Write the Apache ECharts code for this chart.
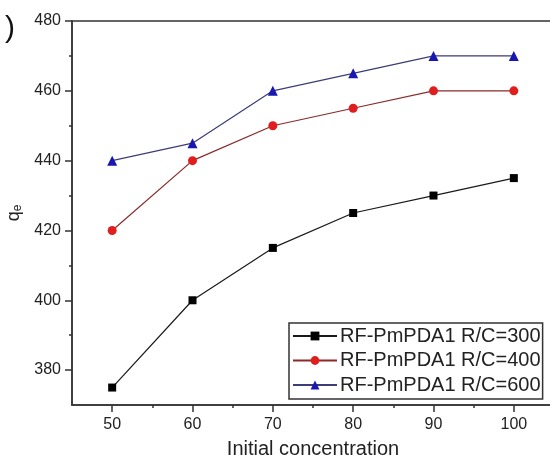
<!DOCTYPE html>
<html>
<head>
<meta charset="utf-8">
<script src="https://cdn.jsdelivr.net/npm/echarts@6/dist/echarts.min.js"></script>
<style>
  html, body { margin: 0; padding: 0; background: #fff; }
  #chart { width: 550px; height: 463px; }
</style>
</head>
<body>
<div id="chart"></div>
<script>
// initial concentration values
var concentration = [50, 60, 70, 80, 90, 100];
// qe for each R/C ratio
var rc300 = [375, 400, 415, 425, 430, 435];
var rc400 = [420, 440, 450, 455, 460, 460];
var rc600 = [440, 445, 460, 465, 470, 470];
var seriesNames = ['RF-PmPDA1 R/C=300', 'RF-PmPDA1 R/C=400', 'RF-PmPDA1 R/C=600'];
// tick labels
var xLabels = [50, 60, 70, 80, 90, 100];
var xMinor = [55, 65, 75, 85, 95];
var yLabels = [380, 400, 420, 440, 460, 480];
var yMinor = [390, 410, 430, 450, 470];

function pairs(xs, ys) {
  var out = [];
  for (var i = 0; i < xs.length; i++) {
    out.push([xs[i], ys[i]]);
  }
  return out;
}

var font = 'Liberation Sans, Arial, sans-serif';
var myChart = echarts.init(document.getElementById('chart'));

var option = {
  animation: false,
  backgroundColor: '#fff',
  textStyle: { fontFamily: font },
  graphic: [{
    type: 'text',
    left: 5,
    top: 14,
    style: { text: ')', font: '30px ' + font, fill: '#111' }
  }],
  grid: {
    left: 72,
    right: -4,
    top: 21,
    bottom: 58,
    containLabel: false,
    outerBoundsMode: 'none',
    show: true,
    borderColor: '#333',
    borderWidth: 1.5
  },
  legend: {
    orient: 'vertical',
    left: 289,
    top: 323,
    padding: [3, 2, 4, 3],
    itemWidth: 44,
    itemHeight: 11,
    itemGap: 4.5,
    backgroundColor: '#fff',
    borderColor: '#333',
    borderWidth: 1.5,
    borderRadius: 0,
    textStyle: { fontSize: 20, lineHeight: 20, color: '#222', fontFamily: font, padding: [0, 0, 0, -2] },
    data: seriesNames
  },
  xAxis: [{
    type: 'value',
    min: 45,
    max: 105,
    interval: 5,
    name: 'Initial concentration',
    nameLocation: 'middle',
    nameGap: 34,
    nameTextStyle: { fontSize: 20, color: '#222', fontFamily: font },
    splitLine: { show: false },
    axisLine: { lineStyle: { color: '#333', width: 1.5 } },
    axisTick: { customValues: xLabels, length: 7, lineStyle: { color: '#333', width: 1.5 } },
    axisLabel: { customValues: xLabels, fontSize: 16, color: '#222', margin: 12, fontFamily: font }
  }, {
    type: 'value',
    min: 45,
    max: 105,
    position: 'bottom',
    splitLine: { show: false },
    axisLine: { show: false },
    axisTick: { customValues: xMinor, length: 3, lineStyle: { color: '#333', width: 1.5 } },
    axisLabel: { show: false }
  }],
  yAxis: [{
    type: 'value',
    min: 370,
    max: 480,
    interval: 10,
    name: 'q{s|e}',
    nameLocation: 'middle',
    nameGap: 46,
    nameTextStyle: {
      fontSize: 18, color: '#222', fontFamily: font,
      rich: { s: { fontSize: 12, verticalAlign: 'bottom', padding: [7, 0, 0, 0], color: '#222' } }
    },
    splitLine: { show: false },
    axisLine: { show: true, lineStyle: { color: '#333', width: 1.5 } },
    axisTick: { show: true, customValues: yLabels, length: 7, lineStyle: { color: '#333', width: 1.5 } },
    axisLabel: { customValues: yLabels, fontSize: 16, color: '#222', margin: 11, fontFamily: font }
  }, {
    type: 'value',
    min: 370,
    max: 480,
    position: 'left',
    splitLine: { show: false },
    axisLine: { show: false },
    axisTick: { show: true, customValues: yMinor, length: 3, lineStyle: { color: '#333', width: 1.5 } },
    axisLabel: { show: false }
  }],
  series: [{
    name: seriesNames[0],
    type: 'line',
    data: pairs(concentration, rc300),
    symbol: 'rect',
    symbolSize: 8,
    itemStyle: { color: '#000' },
    lineStyle: { color: '#1a1a1a', width: 1.2 }
  }, {
    name: seriesNames[1],
    type: 'line',
    data: pairs(concentration, rc400),
    symbol: 'circle',
    symbolSize: 9,
    itemStyle: { color: '#e01e1e' },
    lineStyle: { color: '#8a2a2a', width: 1.2 }
  }, {
    name: seriesNames[2],
    type: 'line',
    data: pairs(concentration, rc600),
    symbol: 'triangle',
    symbolSize: 10,
    itemStyle: { color: '#1818b0' },
    lineStyle: { color: '#3c3c78', width: 1.2 }
  }]
};
myChart.setOption(option);
</script>
</body>
</html>
